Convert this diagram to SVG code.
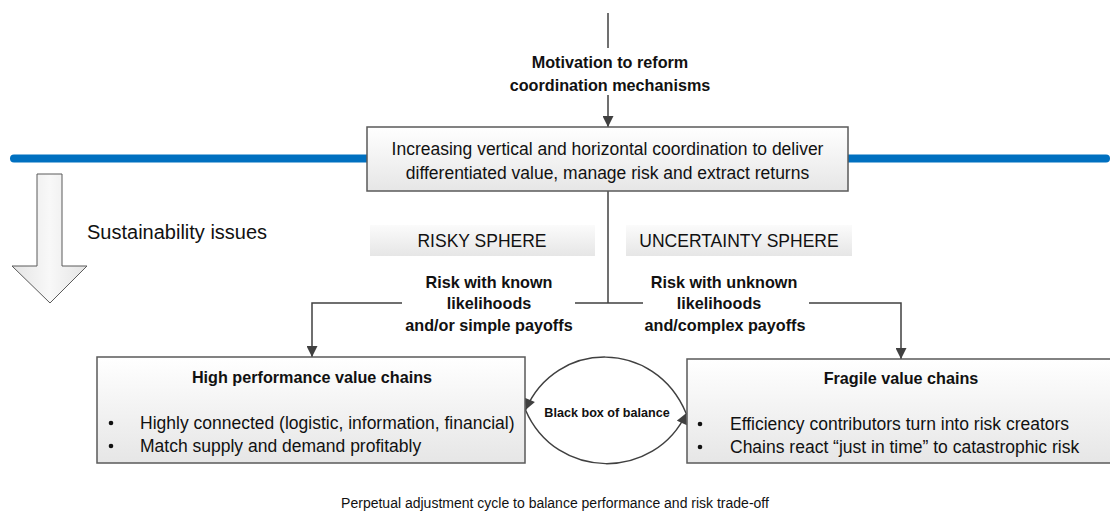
<svg xmlns="http://www.w3.org/2000/svg" width="1110" height="513" viewBox="0 0 1110 513">
  <defs>
    <linearGradient id="gBox" x1="0" y1="0" x2="0" y2="1">
      <stop offset="0" stop-color="#ffffff"/>
      <stop offset="1" stop-color="#e6e6e6"/>
    </linearGradient>
    <linearGradient id="gSphere" x1="0" y1="0" x2="0" y2="1">
      <stop offset="0" stop-color="#fbfbfb"/>
      <stop offset="1" stop-color="#e6e6e6"/>
    </linearGradient>
    <linearGradient id="gArrow" x1="0" y1="0" x2="1" y2="0">
      <stop offset="0" stop-color="#e4e4e4"/>
      <stop offset="0.5" stop-color="#f8f8f8"/>
      <stop offset="1" stop-color="#e4e4e4"/>
    </linearGradient>
    <marker id="arr" viewBox="0 0 10 10" refX="10" refY="5" markerWidth="12" markerHeight="11" markerUnits="userSpaceOnUse" orient="auto">
      <path d="M0,0 L10,5 L0,10 z" fill="#404040"/>
    </marker>
    <style>
      text { font-family: "Liberation Sans", Arial, sans-serif; fill: #111; }
      .body { font-size: 17.5px; }
      .bold { font-size: 16.2px; font-weight: bold; }
      .box { stroke: #5a5a5a; stroke-width: 1.5; fill: url(#gBox); }
      .sph { fill: url(#gSphere); }
      .ln { stroke: #404040; stroke-width: 1.5; fill: none; }
      .sph-t { font-size: 17.5px; }
    </style>
  </defs>

  <!-- blue boundary line -->
  <g id="boundary">
    <line x1="14" y1="158.5" x2="1106" y2="158.5" stroke="#0070C0" stroke-width="8" stroke-linecap="round"/>
  </g>

  <!-- connectors -->
  <g id="connectors">
    <line class="ln" x1="608" y1="13" x2="608" y2="48"/>
    <line class="ln" x1="608" y1="95" x2="608" y2="127" marker-end="url(#arr)"/>
    <line class="ln" x1="608" y1="191" x2="608" y2="303"/>
    <polyline class="ln" points="608,303 312,303 312,357" marker-end="url(#arr)"/>
    <polyline class="ln" points="608,303 901,303 901,359" marker-end="url(#arr)"/>
    <path class="ln" d="M686,413 C655,339 556,339 525.5,410" marker-end="url(#arr)"/>
    <path class="ln" d="M525.5,410 C556,481 655,481 686.5,413" marker-end="url(#arr)"/>
  </g>

  <g id="motivation">
    <text class="bold" x="610" y="68" text-anchor="middle">Motivation to reform</text>
    <text class="bold" x="610" y="91" text-anchor="middle">coordination mechanisms</text>
  </g>

  <g id="coordination">
    <rect class="box" x="367" y="127" width="481" height="64"/>
    <text class="body" x="607.5" y="154.5" text-anchor="middle">Increasing vertical and horizontal coordination to deliver</text>
    <text class="body" x="607.5" y="178.5" text-anchor="middle">differentiated value, manage risk and extract returns</text>
  </g>

  <g id="sustainability">
    <path d="M37,174 L62,174 L62,266 L87,266 L50,303 L12,266 L37,266 Z" fill="url(#gArrow)" stroke="#5a5a5a" stroke-width="1"/>
    <text x="87" y="239" style="font-size:20px">Sustainability issues</text>
  </g>

  <g id="risky-sphere">
    <rect class="sph" x="370" y="225" width="225" height="31"/>
    <text class="sph-t" x="482" y="247" text-anchor="middle">RISKY SPHERE</text>
  </g>

  <g id="uncertainty-sphere">
    <rect class="sph" x="626" y="225" width="226" height="31"/>
    <text class="sph-t" x="739" y="247" text-anchor="middle">UNCERTAINTY SPHERE</text>
  </g>

  <g id="known-label">
    <rect x="402" y="292" width="173" height="22" fill="#ffffff"/>
    <text class="bold" x="489" y="288" text-anchor="middle">Risk with known</text>
    <text class="bold" x="489" y="309" text-anchor="middle">likelihoods</text>
    <text class="bold" x="489" y="331" text-anchor="middle">and/or simple payoffs</text>
  </g>

  <g id="unknown-label">
    <rect x="643" y="292" width="166" height="22" fill="#ffffff"/>
    <text class="bold" x="724" y="288" text-anchor="middle">Risk with unknown</text>
    <text class="bold" x="719" y="309" text-anchor="middle">likelihoods</text>
    <text class="bold" x="725" y="331" text-anchor="middle">and/complex payoffs</text>
  </g>

  <g id="high-performance">
    <rect class="box" x="97" y="357" width="428" height="106"/>
    <text class="bold" x="312" y="383" text-anchor="middle">High performance value chains</text>
    <circle cx="111" cy="423" r="2.3" fill="#111"/>
    <text class="body" x="140" y="429">Highly connected (logistic, information, financial)</text>
    <circle cx="111" cy="446" r="2.3" fill="#111"/>
    <text class="body" x="140" y="452">Match supply and demand profitably</text>
  </g>

  <g id="fragile">
    <rect class="box" x="687" y="359" width="430" height="104"/>
    <text class="bold" x="901" y="384" text-anchor="middle">Fragile value chains</text>
    <circle cx="700" cy="424" r="2.3" fill="#111"/>
    <text class="body" x="730" y="430">Efficiency contributors turn into risk creators</text>
    <circle cx="700" cy="447" r="2.3" fill="#111"/>
    <text class="body" x="730" y="453">Chains react “just in time” to catastrophic risk</text>
  </g>

  <g id="black-box">
    <text x="607" y="417" text-anchor="middle" style="font-size:12.6px;font-weight:bold">Black box of balance</text>
  </g>

  <g id="cycle-caption">
    <text x="555" y="508" text-anchor="middle" style="font-size:14px">Perpetual adjustment cycle to balance performance and risk trade-off</text>
  </g>
</svg>
